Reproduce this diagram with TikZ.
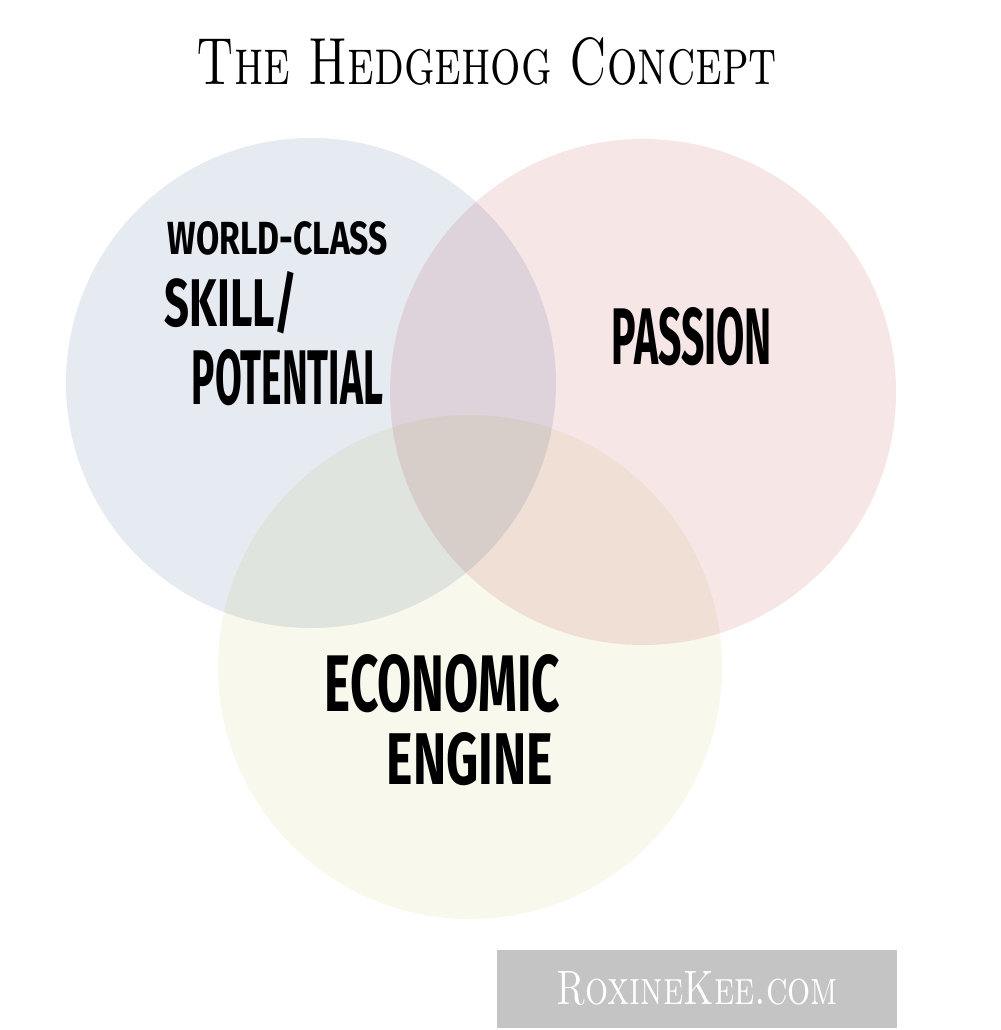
\documentclass[tikz,border=0pt]{standalone}
\usepackage{fontspec}
\usepackage{graphicx}
\newfontfamily\hand{Fira Sans}
\definecolor{cblue}{RGB}{230,235,242}
\definecolor{cpink}{RGB}{247,230,230}
\definecolor{cyell}{RGB}{248,248,236}
\definecolor{wmgray}{RGB}{196,196,196}
\tikzset{
  handtext/.style={inner sep=0pt, text=black},
  titletext/.style={inner sep=0pt, text=black},
  circ/.style={draw=none}
}
\newcommand{\fitbox}[3]{\resizebox{#1pt}{#2pt}{#3}}
\begin{document}
\begin{tikzpicture}[x=0.75pt,y=-0.75pt]
\useasboundingbox[fill=white] (0,0) rectangle (1000,1030);
\begin{scope}[blend group=multiply]
  \fill[cblue] (311,383) circle[radius=245];
  \fill[cpink] (643,392) circle[radius=253];
  \fill[cyell] (470,667) circle[radius=252];
\end{scope}
\node[titletext] (title) at (487,61.5) {\fitbox{435}{35.25}{\scshape The Hedgehog Concept}};
\node[handtext] (wc) at (278,238.5) {\fitbox{165}{24.75}{\hand\bfseries WORLD-CLASS}};
\node[handtext] (skill) at (231,302.5) {\fitbox{99}{41.25}{\hand\bfseries SKILL/}};
\node[handtext] (pot) at (287.5,377.5) {\fitbox{143.25}{41.25}{\hand\bfseries POTENTIAL}};
\node[handtext] (passion) at (692,336.5) {\fitbox{120}{42.75}{\hand\bfseries PASSION}};
\node[handtext] (econ) at (442.5,683.5) {\fitbox{176.25}{42.75}{\hand\bfseries ECONOMIC}};
\node[handtext] (engine) at (470,759) {\fitbox{124.5}{39}{\hand\bfseries ENGINE}};
\fill[wmgray] (497,950) rectangle (897,1028);
\node[titletext, text=white] (wm) at (697.5,988.5) {\fitbox{210.75}{24.75}{\scshape RoxineKee.com}};
\end{tikzpicture}
\end{document}
